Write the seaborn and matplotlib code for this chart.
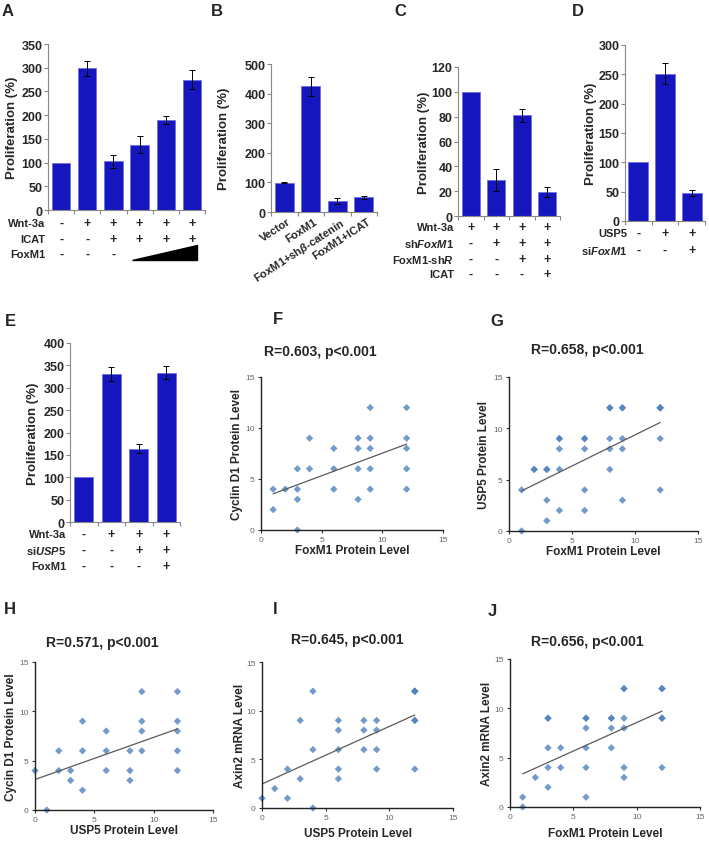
import pandas as pd
import matplotlib
matplotlib.use("Agg")
import matplotlib.pyplot as plt
import seaborn as sns
from matplotlib.patches import Polygon
from matplotlib.transforms import blended_transform_factory

sns.set_style("ticks")
plt.rcParams['font.family'] = ['Liberation Sans', 'DejaVu Sans']
plt.rcParams['font.weight'] = 'bold'
plt.rcParams['mathtext.fontset'] = 'custom'
plt.rcParams['mathtext.rm'] = 'Liberation Sans:bold'
plt.rcParams['mathtext.it'] = 'Liberation Sans:bold:italic'
plt.rcParams['mathtext.bf'] = 'Liberation Sans:bold'

W, H = 709, 845
BAR = '#1616BE'
DOT = '#4F81BD'

# ---- bar chart data ----
a_vals = [100, 299, 103, 138, 190, 275]
a_err = [0, 16, 14, 18, 9, 20]
a_rows = ["Wnt-3a", "ICAT", "FoxM1"]
a_signs = [["-", "+", "+", "+", "+", "+"],
           ["-", "-", "+", "+", "+", "+"],
           ["-", "-", "-", "", "", ""]]

b_groups = ["Vector", "FoxM1", r"FoxM1+sh$\mathit{\beta}$-catenin", "FoxM1+ICAT"]
b_vals = [99, 425, 37, 50]
b_err = [2, 32, 10, 5]

c_vals = [100, 29, 81, 19]
c_err = [0, 8.5, 5, 4]
c_rows = ["Wnt-3a", r"sh$\mathit{FoxM1}$", r"FoxM1-sh$\mathit{R}$", "ICAT"]
c_signs = [["+", "+", "+", "+"],
           ["-", "+", "+", "+"],
           ["-", "-", "+", "+"],
           ["-", "-", "-", "+"]]

d_vals = [100, 251, 47]
d_err = [0, 18, 5]
d_rows = ["USP5", r"si$\mathit{FoxM1}$"]
d_signs = [["-", "+", "+"], ["-", "-", "+"]]

e_vals = [100, 330, 164, 334]
e_err = [0, 16, 10, 14]
e_rows = ["Wnt-3a", r"si$\mathit{USP5}$", "FoxM1"]
e_signs = [["-", "+", "+", "+"],
           ["-", "-", "+", "+"],
           ["-", "-", "-", "+"]]

# ---- scatter data (protein / mRNA levels) ----
f_x = [1, 1, 2, 3, 3, 3, 3, 4, 4, 6, 6, 6, 8, 8, 8, 8, 9, 9, 9, 9, 9, 12, 12, 12, 12, 12]
f_y = [4, 2, 4, 6, 4, 3, 0, 9, 6, 8, 6, 4, 9, 8, 6, 3, 12, 9, 8, 6, 4, 12, 9, 8, 6, 4]

g_x = [1, 1, 2, 3, 3, 3, 4, 4, 4, 4, 6, 6, 6, 6, 8, 8, 8, 8, 9, 9, 9, 9, 12, 12, 12,
       12, 12, 9, 8, 4, 6, 3, 2]
g_y = [4, 0, 6, 6, 3, 1, 9, 8, 6, 2, 9, 8, 4, 2, 12, 9, 8, 6, 12, 9, 8, 3, 12, 9, 4,
       12, 12, 12, 12, 9, 9, 6, 6]

h_x = [0, 1, 2, 2, 3, 3, 4, 4, 4, 6, 6, 6, 8, 8, 8, 9, 9, 9, 9, 12, 12, 12, 12, 12]
h_y = [4, 0, 6, 4, 4, 3, 9, 6, 2, 8, 6, 4, 6, 4, 3, 12, 9, 8, 6, 12, 9, 8, 6, 4]

i_x = [0, 1, 2, 2, 3, 3, 4, 4, 4, 6, 6, 6, 6, 6, 8, 8, 8, 9, 9, 9, 9, 12, 12, 12,
       12, 12, 12]
i_y = [1, 2, 4, 1, 9, 3, 12, 6, 0, 9, 8, 6, 4, 3, 9, 8, 6, 9, 8, 6, 4, 12, 9, 4,
       12, 12, 9]

j_x = [1, 1, 2, 3, 3, 3, 3, 4, 4, 6, 6, 6, 6, 6, 8, 8, 8, 9, 9, 9, 9, 9, 12, 12, 12,
       12, 12, 9, 6, 3, 8]
j_y = [1, 0, 3, 9, 6, 4, 2, 6, 4, 9, 8, 6, 4, 1, 9, 8, 6, 12, 9, 8, 4, 3, 12, 9, 4,
       12, 9, 12, 9, 9, 9]

fig = plt.figure(figsize=(W / 100, H / 100), dpi=100)
fig.patch.set_facecolor('white')


def place(x0, y0, x1, y1):
    return fig.add_axes([x0 / W, 1 - y1 / H, (x1 - x0) / W, (y1 - y0) / H])


def ftext(x, y, s, **kw):
    fig.text(x / W, 1 - y / H, s, **kw)


def bar_panel(box, vals, errs, ymax, step, ylab_x, width=0.7):
    ax = place(*box)
    df = pd.DataFrame({'g': [str(i) for i in range(len(vals))], 'v': vals})
    sns.barplot(data=df, x='g', y='v', color=BAR, saturation=1, width=width,
                edgecolor='#7070E0', linewidth=0.6, ax=ax)
    idx = [i for i, e in enumerate(errs) if e > 0]
    ax.errorbar(idx, [vals[i] for i in idx], yerr=[errs[i] for i in idx], fmt='none',
                ecolor='black', elinewidth=0.7, capsize=2, capthick=0.7)
    ax.set_xlim(-0.5, len(vals) - 0.5)
    ax.set_ylim(0, ymax)
    ax.set_yticks(range(0, ymax + 1, step))
    ax.set_xticks([i - 0.5 for i in range(len(vals) + 1)])
    ax.set_xticklabels([])
    ax.tick_params(axis='x', length=3, color='#888888', width=0.8)
    ax.tick_params(axis='y', length=3, color='#888888', width=0.8, labelsize=9, pad=1)
    sns.despine(ax=ax)
    for s in ['left', 'bottom']:
        ax.spines[s].set_color('#888888')
        ax.spines[s].set_linewidth(0.8)
    ax.set_xlabel('')
    ax.set_ylabel('')
    ftext(ylab_x, (box[1] + box[3]) / 2, 'Proliferation (%)', rotation=90,
          ha='center', va='center', fontsize=9.5, fontweight='bold')
    return ax


def sign_rows(ax, labels, signs, ys, label_x):
    tr = blended_transform_factory(ax.transData, fig.transFigure)
    for lab, row, y in zip(labels, signs, ys):
        ftext(label_x, y, lab, ha='right', va='center', fontsize=8, fontweight='bold')
        for i, s in enumerate(row):
            ax.text(i, 1 - y / H, s, transform=tr, ha='center', va='center',
                    fontsize=9, fontweight='bold', clip_on=False)
    return tr


def scatter_panel(box, x, y, xlab, ylab, title, title_xy, ylab_x, xlab_y):
    ax = place(*box)
    df = pd.DataFrame({'x': x, 'y': y})
    sns.regplot(data=df, x='x', y='y', ci=None, marker='D', ax=ax,
                scatter_kws={'s': 14, 'color': DOT, 'edgecolor': 'none'},
                line_kws={'color': '#5a5a5a', 'linewidth': 0.9})
    ax.collections[0].set_clip_on(False)
    ax.set_xlim(0, 15)
    ax.set_ylim(0, 15)
    ax.set_xticks([0, 5, 10, 15])
    ax.set_yticks([0, 5, 10, 15])
    ax.tick_params(length=2.5, width=0.8, color='#333333', labelsize=6,
                   labelcolor='#666666', pad=2)
    for lbl in ax.get_xticklabels() + ax.get_yticklabels():
        lbl.set_fontweight('normal')
    sns.despine(ax=ax)
    for s in ['left', 'bottom']:
        ax.spines[s].set_color('#222222')
        ax.spines[s].set_linewidth(1.0)
    ax.set_xlabel('')
    ax.set_ylabel('')
    ftext(title_xy[0], title_xy[1], title, ha='center', va='center', fontsize=10,
          fontweight='bold')
    ftext((box[0] + box[2]) / 2, xlab_y, xlab, ha='center', va='center', fontsize=8.5,
          fontweight='bold')
    ftext(ylab_x, (box[1] + box[3]) / 2, ylab, rotation=90, ha='center', va='center',
          fontsize=8.5, fontweight='bold')
    return ax


# A
ax = bar_panel((48, 45, 205, 211), a_vals, a_err, 350, 50, 12)
tr = sign_rows(ax, a_rows, a_signs, [224, 240, 255], 45)
wedge = Polygon([(2.72, 1 - 261 / H), (5.2, 1 - 261 / H), (5.2, 1 - 246 / H)],
                closed=True, transform=tr, color='black', clip_on=False)
ax.add_patch(wedge)

# B
ax = bar_panel((271, 65, 377, 213), b_vals, b_err, 500, 100, 224, width=0.72)
trb = blended_transform_factory(ax.transData, fig.transFigure)
for i, lab in enumerate(b_groups):
    ax.text(i + 0.1, 1 - 217 / H, lab, transform=trb, rotation=33, ha='right', va='top',
            rotation_mode='anchor', fontsize=8, fontweight='bold', clip_on=False)

# C
ax = bar_panel((458, 68, 560, 217), c_vals, c_err, 120, 20, 424, width=0.72)
sign_rows(ax, c_rows, c_signs, [228, 244, 260, 275], 454)

# D
ax = bar_panel((625, 46, 705, 222), d_vals, d_err, 300, 50, 591, width=0.75)
sign_rows(ax, d_rows, d_signs, [234, 251], 627)

# E
ax = bar_panel((70, 344, 180, 523), e_vals, e_err, 400, 50, 33, width=0.69)
sign_rows(ax, e_rows, e_signs, [535, 551, 567], 66)

# scatter panels
scatter_panel((261, 378, 443, 531), f_x, f_y, 'FoxM1 Protein Level', 'Cyclin D1 Protein Level',
              'R=0.603, p<0.001', (320, 352), 237, 551)
scatter_panel((509, 378, 698, 532), g_x, g_y, 'FoxM1 Protein Level', 'USP5 Protein Level',
              'R=0.658, p<0.001', (587, 350), 484, 552)
scatter_panel((35, 663, 213, 811), h_x, h_y, 'USP5 Protein Level', 'Cycin D1 Protein Level',
              'R=0.571, p<0.001', (102, 643), 11, 831)
scatter_panel((262, 663, 453, 809), i_x, i_y, 'USP5 Protein Level', 'Axin2 mRNA Level',
              'R=0.645, p<0.001', (347, 640), 240, 834)
scatter_panel((510, 660, 700, 808), j_x, j_y, 'FoxM1 Protein Level', 'Axin2 mRNA Level',
              'R=0.656, p<0.001', (587, 642), 487, 834)

# panel letters
for letter, (lx, ly) in {'A': (8, 12), 'B': (217, 12), 'C': (400, 11), 'D': (578, 11),
                         'E': (10, 322), 'F': (278, 320), 'G': (497, 322),
                         'H': (10, 610), 'I': (275, 610), 'J': (492, 612)}.items():
    ftext(lx, ly, letter, ha='center', va='center', fontsize=12, fontweight='bold')

fig.savefig('out.png', dpi=100, facecolor='white')
